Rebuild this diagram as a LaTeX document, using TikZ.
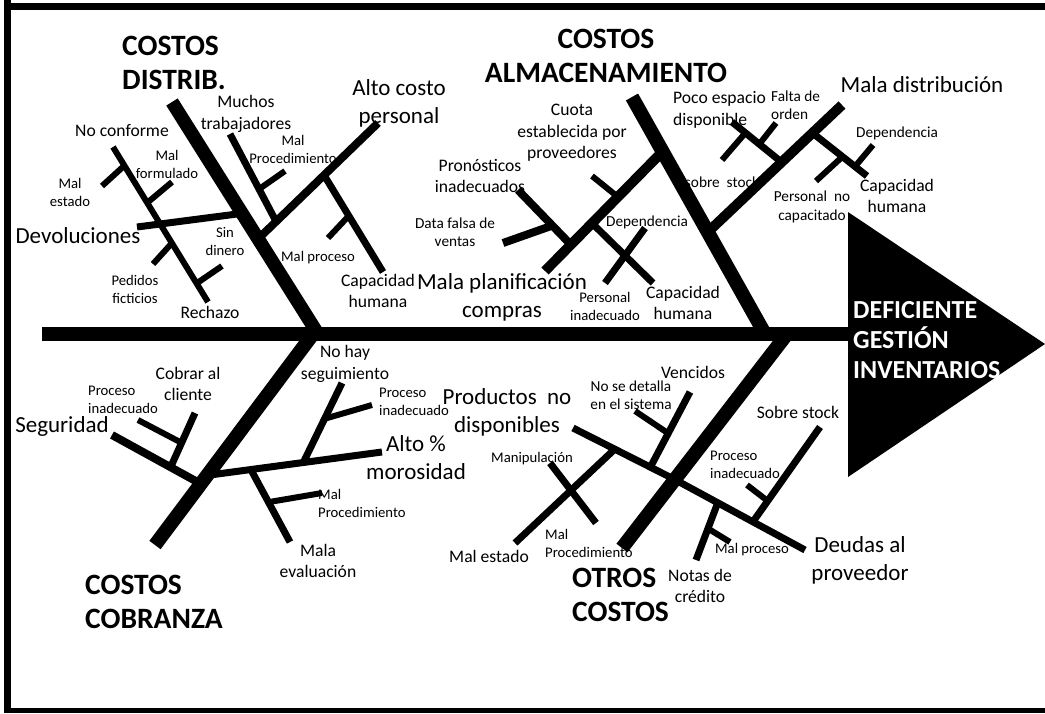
\documentclass[tikz,border=0pt]{standalone}
\usepackage{fontspec}
\setmainfont{Carlito}
\usetikzlibrary{calc}
\begin{document}
\begin{tikzpicture}[x=1pt,y=-1pt,
  bone/.style={line width=13.5pt},
  subbone/.style={line width=7pt},
  thickbone/.style={line width=10pt},
  tick/.style={line width=6pt},
  lbl/.style={inner sep=0pt, align=center, text=black},
  fs/.style={lbl, font=\fontsize{14.7}{18}\selectfont},
  fx/.style={lbl, font=\fontsize{15.3}{18.5}\selectfont},
  fm/.style={lbl, font=\fontsize{17.6}{21.5}\selectfont},
  fl/.style={lbl, font=\fontsize{23}{28}\selectfont},
  hd/.style={lbl, font=\fontsize{29.5}{34}\selectfont\bfseries},
  ef/.style={lbl, align=left, text=white, font=\fontsize{26}{30}\selectfont\bfseries}]
\useasboundingbox (0,0) rectangle (1045,713);
% frame
\coordinate (fTL) at (7.5,0); \coordinate (fBL) at (7.5,713);
\coordinate (fT1) at (4,6.5); \coordinate (fT2) at (1045,6.5);
\coordinate (fB1) at (4,710); \coordinate (fB2) at (1045,710);
\draw[line width=7pt] (fTL) -- (fBL);
\draw[line width=7pt] (fT1) -- (fT2);
\draw[line width=5pt] (fB1) -- (fB2);
% head
\coordinate (h1) at (848,212); \coordinate (h2) at (1045,344); \coordinate (h3) at (848,477);
\fill (h1) -- (h2) -- (h3) -- cycle;
\node[ef, anchor=west] (effect) at (853,340) {DEFICIENTE\\GESTIÓN\\INVENTARIOS};
% spine
\coordinate (s1) at (42,334); \coordinate (s2) at (850,334);
\draw[line width=14pt] (s1) -- (s2);
% main bones
\coordinate (Dt) at (172,102); \coordinate (Db) at (318,334);
\coordinate (At) at (632,97);  \coordinate (Ab) at (765,334);
\coordinate (Cb) at (155,545); \coordinate (Ct) at (313,334);
\coordinate (Ob) at (622,548); \coordinate (Ot) at (787,334);
\draw[bone] (Dt) -- (Db);
\draw[bone,line width=14pt] (At) -- (Ab);
\draw[bone,line width=14pt] (Cb) -- (Ct);
\draw[bone,line width=14pt] (Ob) -- (Ot);

% ---------- COSTOS DISTRIB ----------
\coordinate (dev1) at (137,227); \coordinate (dev2) at ($(Dt)!0.48!(Db)$);
\draw[subbone] (dev1) -- (dev2);
\coordinate (nc1) at (113,147); \coordinate (nc2) at (208,302);
\draw[tick] (nc1) -- (nc2);
\coordinate (t1a) at ($(nc1)!0.12!(nc2)$); \coordinate (t1b) at (102,186);
\coordinate (t2a) at ($(nc1)!0.36!(nc2)$); \coordinate (t2b) at (172,182);
\coordinate (t3a) at ($(nc1)!0.62!(nc2)$); \coordinate (t3b) at (153,264);
\coordinate (t4a) at ($(nc1)!0.88!(nc2)$); \coordinate (t4b) at (222,266);
\draw[tick] (t1a) -- (t1b); \draw[tick] (t2a) -- (t2b);
\draw[tick] (t3a) -- (t3b); \draw[tick] (t4a) -- (t4b);
\coordinate (al1) at (378,123); \coordinate (al2) at ($(Dt)!0.59!(Db)$);
\draw[line width=8pt] (al1) -- (al2);
\coordinate (mu1) at (230,134); \coordinate (mu2) at ($(al1)!0.85!(al2)$);
\draw[subbone] (mu1) -- (mu2);
\coordinate (t5a) at ($(mu1)!0.63!(mu2)$); \coordinate (t5b) at (285,171);
\draw[tick] (t5a) -- (t5b);
\coordinate (ca1) at ($(al1)!0.45!(al2)$); \coordinate (ca2) at (383,272);
\draw[subbone] (ca1) -- (ca2);
\coordinate (t6a) at ($(ca1)!0.42!(ca2)$); \coordinate (t6b) at (328,238);
\draw[tick] (t6a) -- (t6b);

% ---------- COSTOS ALMACENAMIENTO ----------
\coordinate (mp1) at (545,271); \coordinate (mp2) at ($(At)!0.23!(Ab)$);
\draw[thickbone] (mp1) -- (mp2);
\coordinate (t7a) at ($(mp1)!0.62!(mp2)$); \coordinate (t7b) at (592,176);
\draw[tick] (t7a) -- (t7b);
\coordinate (pr1) at (518,190); \coordinate (pr2) at ($(mp1)!0.22!(mp2)$);
\draw[line width=8pt] (pr1) -- (pr2);
\coordinate (df1) at (503,243); \coordinate (df2) at ($(pr1)!0.65!(pr2)$);
\draw[line width=8pt] (df1) -- (df2);
\coordinate (de1) at ($(mp1)!0.4!(mp2)$); \coordinate (de2) at (653,283);
\draw[subbone] (de1) -- (de2);
\coordinate (pi1) at (605,283); \coordinate (pi2) at (645,228);
\draw[subbone] (pi1) -- (pi2);
\coordinate (md1) at (842,105); \coordinate (md2) at ($(At)!0.57!(Ab)$);
\draw[thickbone] (md1) -- (md2);
\coordinate (pc1) at (732,122); \coordinate (pc2) at ($(md1)!0.45!(md2)$);
\draw[subbone] (pc1) -- (pc2);
\coordinate (t8a) at ($(pc1)!0.27!(pc2)$); \coordinate (t8b) at (722,160);
\coordinate (t9a) at ($(pc1)!0.55!(pc2)$); \coordinate (t9b) at (776,123);
\draw[tick] (t8a) -- (t8b); \draw[tick] (t9a) -- (t9b);
\coordinate (dp1) at ($(md1)!0.22!(md2)$); \coordinate (dp2) at (867,176);
\draw[subbone] (dp1) -- (dp2);
\coordinate (t10a) at ($(dp1)!0.55!(dp2)$); \coordinate (t10b) at (816,181);
\coordinate (t11a) at ($(dp1)!0.78!(dp2)$); \coordinate (t11b) at (873,145);
\draw[tick] (t10a) -- (t10b); \draw[tick] (t11a) -- (t11b);

% ---------- COSTOS COBRANZA ----------
\coordinate (sg1) at (112,435); \coordinate (sg2) at ($(Cb)!0.29!(Ct)$);
\draw[line width=8pt] (sg1) -- (sg2);
\coordinate (cb1) at (195,413); \coordinate (cb2) at ($(sg1)!0.66!(sg2)$);
\draw[subbone] (cb1) -- (cb2);
\coordinate (t12a) at ($(cb1)!0.55!(cb2)$); \coordinate (t12b) at (138,420);
\draw[tick] (t12a) -- (t12b);
\coordinate (am1) at ($(Cb)!0.33!(Ct)$); \coordinate (am2) at (382,452);
\draw[subbone] (am1) -- (am2);
\coordinate (nh1) at (342,383); \coordinate (nh2) at ($(am1)!0.55!(am2)$);
\draw[subbone] (nh1) -- (nh2);
\coordinate (t13a) at ($(nh1)!0.45!(nh2)$); \coordinate (t13b) at (372,405);
\draw[tick] (t13a) -- (t13b);
\coordinate (me1) at ($(am1)!0.25!(am2)$); \coordinate (me2) at (290,542);
\draw[subbone] (me1) -- (me2);
\coordinate (t14a) at ($(me1)!0.45!(me2)$); \coordinate (t14b) at (322,493);
\draw[tick] (t14a) -- (t14b);

% ---------- OTROS COSTOS ----------
\coordinate (pd1) at (573,428); \coordinate (pd2) at ($(Ob)!0.32!(Ot)$);
\draw[subbone] (pd1) -- (pd2);
\coordinate (du2) at (805,550);
\draw[subbone] (pd2) -- (du2);
\coordinate (ms1) at (515,543); \coordinate (ms2) at ($(pd1)!0.41!(pd2)$);
\draw[subbone] (ms1) -- (ms2);
\coordinate (mn1) at (550,463); \coordinate (mn2) at (596,523);
\draw[subbone] (mn1) -- (mn2);
\coordinate (vc1) at (690,392); \coordinate (vc2) at ($(pd1)!0.76!(pd2)$);
\draw[subbone] (vc1) -- (vc2);
\coordinate (t15a) at ($(vc1)!0.55!(vc2)$); \coordinate (t15b) at (635,411);
\draw[tick] (t15a) -- (t15b);
\coordinate (ss1) at (820,427); \coordinate (ss2) at ($(pd2)!0.6!(du2)$);
\draw[subbone] (ss1) -- (ss2);
\coordinate (t16a) at ($(ss1)!0.78!(ss2)$); \coordinate (t16b) at (747,485);
\draw[tick] (t16a) -- (t16b);
\coordinate (nt1) at ($(pd2)!0.33!(du2)$); \coordinate (nt2) at (696,560);
\draw[subbone] (nt1) -- (nt2);
\coordinate (t17a) at ($(nt1)!0.45!(nt2)$); \coordinate (t17b) at (730,542);
\draw[tick] (t17a) -- (t17b);

% ---------- labels ----------
\node[hd, align=left, anchor=west] (hD) at (122,63) {COSTOS\\DISTRIB.};
\node[hd] (hA) at (606,56) {COSTOS\\ALMACENAMIENTO};
\node[hd, align=left, anchor=west] (hC) at (85,602) {COSTOS\\COBRANZA};
\node[hd, align=left, anchor=west] (hO) at (572,595) {OTROS\\COSTOS};

\node[fl] (lDev) at (78,236) {Devoluciones};
\node[fl] (lAlto) at (399,103) {Alto costo\\personal};
\node[fl] (lMP) at (502,297) {Mala planificación\\compras};
\node[fl] (lMD) at (922,85) {Mala distribución};
\node[fl] (lSeg) at (62,426) {Seguridad};
\node[fl] (lAM) at (416,458) {Alto \%\\morosidad};
\node[fl] (lPD) at (507,412) {Productos~ no\\disponibles};
\node[fl] (lDu) at (860,560) {Deudas al\\proveedor};

\node[fm] (lMu) at (246,114) {Muchos\\trabajadores};
\node[fm] (lNC) at (122,131) {No conforme};
\node[fm] (lRe) at (210,312) {Rechazo};
\node[fm] (lCH1) at (378,291) {Capacidad\\humana};
\node[fm] (lCu) at (572,133) {Cuota\\establecida por\\proveedores};
\node[fm] (lPr) at (480,176) {Pronósticos\\inadecuados};
\node[fm] (lCH2) at (683,303) {Capacidad\\humana};
\node[fm, align=left, anchor=west] (lPE) at (673,110) {Poco espacio\\disponible};
\node[fm] (lCH3) at (897,196) {Capacidad\\humana};
\node[fx] (lSS1) at (722,182) {sobre~ stock};
\node[fm] (lCo) at (188,384) {Cobrar al\\cliente};
\node[fm] (lNH) at (345,364) {No hay\\seguimiento};
\node[fm] (lME) at (318,561) {Mala\\evaluación};
\node[fm] (lVe) at (693,372) {Vencidos};
\node[fm] (lMEs) at (489,556) {Mal estado};
\node[fm] (lSS2) at (798,412) {Sobre stock};
\node[fm] (lNo) at (700,586) {Notas de\\crédito};

\node[fs] (lMF) at (167,164) {Mal\\formulado};
\node[fs] (lMEs2) at (70,192) {Mal\\estado};
\node[fs] (lSD) at (225,241) {Sin\\dinero};
\node[fs] (lPF) at (135,289) {Pedidos\\ficticios};
\node[fs] (lMP1) at (293,149) {Mal\\Procedimiento};
\node[fs] (lMPr1) at (318,258) {Mal proceso};
\node[fs] (lPI) at (605,306) {Personal\\inadecuado};
\node[fs, align=left, anchor=west] (lPI2) at (88,400) {Proceso\\inadecuado};
\node[fs, align=left, anchor=west] (lPI3) at (379,402) {Proceso\\inadecuado};
\node[fs, align=left, anchor=west] (lMP2) at (318,503) {Mal\\Procedimiento};
\node[fs] (lMa) at (532,459) {Manipulación};
\node[fs, align=left, anchor=west] (lMP3) at (545,543) {Mal\\Procedimiento};
\node[fs, align=left, anchor=west] (lPI4) at (710,465) {Proceso\\inadecuado};
\node[fs] (lMPr2) at (752,550) {Mal proceso};

\node[fx] (lDF) at (455,232) {Data falsa de\\ventas};
\node[fx] (lDe1) at (647,222) {Dependencia};
\node[fx, align=left, anchor=west] (lFO) at (771,105) {Falta de\\orden};
\node[fx] (lDe2) at (897,133) {Dependencia};
\node[fx] (lPNC) at (812,207) {Personal~ no\\capacitado};
\node[fx] (lNS) at (631,395) {No se detalla\\en el sistema};
\end{tikzpicture}
\end{document}
